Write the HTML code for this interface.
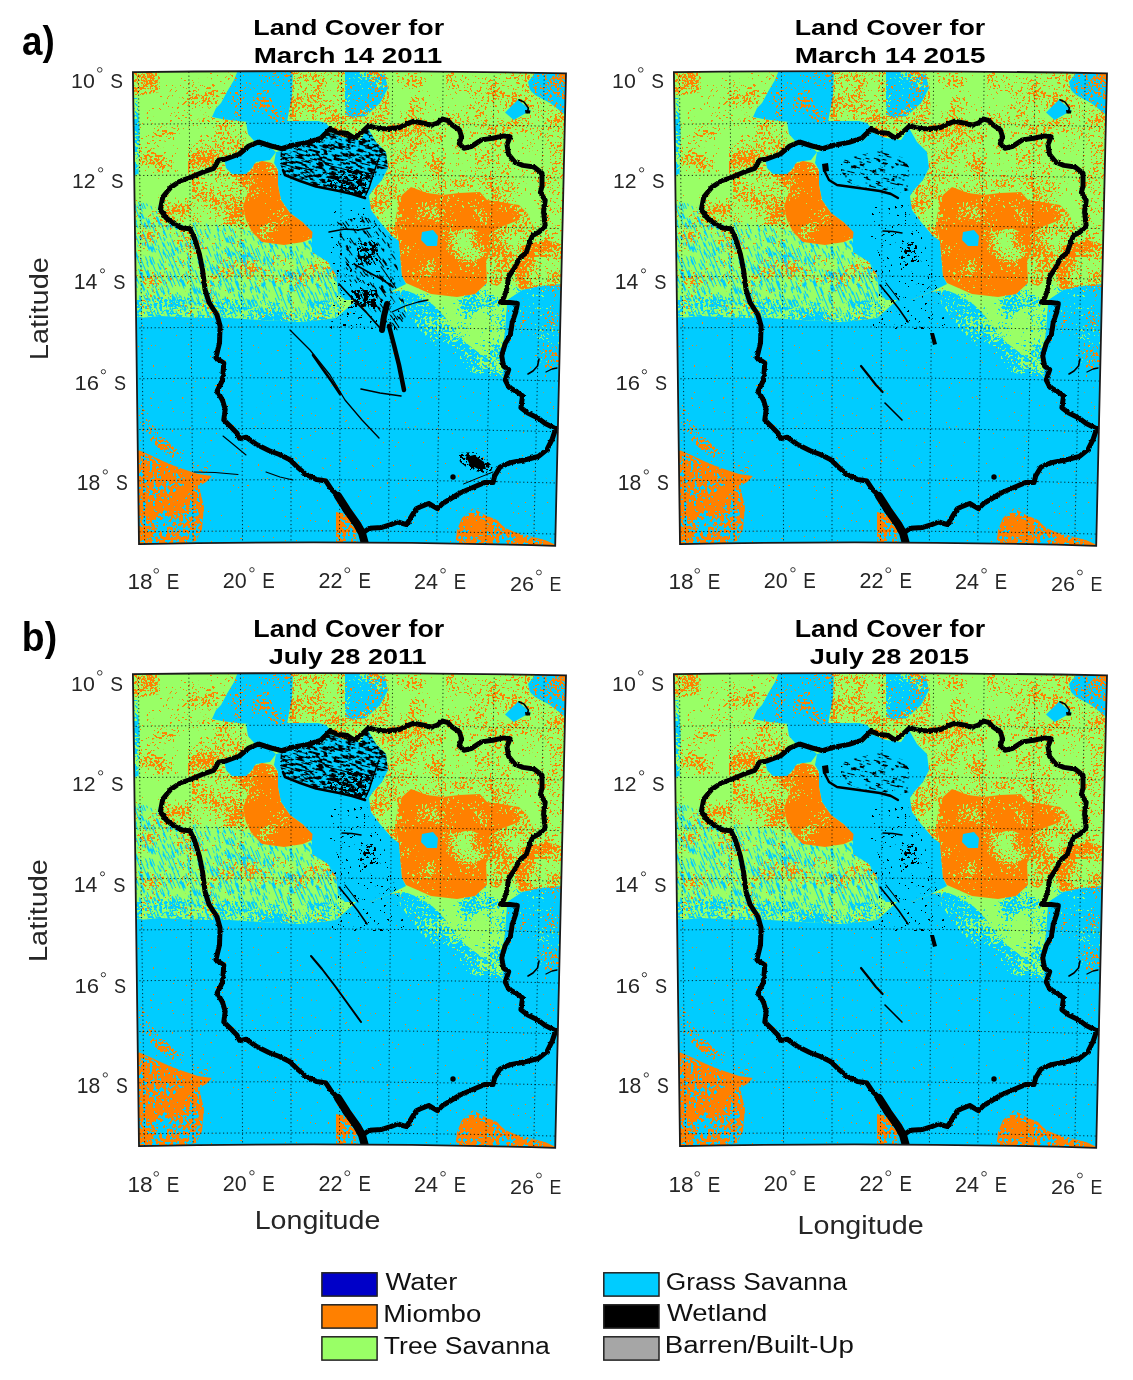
<!DOCTYPE html><html><head><meta charset="utf-8"><title>Land Cover</title><style>html,body{margin:0;padding:0;background:#fff;overflow:hidden}svg{display:block;will-change:transform}text{font-family:"Liberation Sans",sans-serif}</style></head><body>
<svg width="1133" height="1380" viewBox="0 0 1133 1380">
<rect width="1133" height="1380" fill="#fff"/>
<defs>
<clipPath id="fc"><path d="M132.9 72.2 Q350 69.6 566.0 73.3 L555.2 545.8 Q347 540.0 139.0 544.2 Z"/></clipPath>
<clipPath id="cz0"><path d="M128.0 200.0 L160.0 206.0 L176.0 226.0 L192.0 222.0 L210.0 224.0 L232.0 226.0 L252.0 232.0 L262.0 242.0 L284.0 245.0 L303.0 242.0 L312.0 240.0 L312.0 252.0 L328.0 262.0 L336.0 275.0 L338.0 292.0 L345.0 300.0 L336.0 318.0 L320.0 320.0 L300.0 322.0 L260.0 320.0 L230.0 318.0 L200.0 318.0 L160.0 316.0 L140.0 318.0 L128.0 318.0 Z"/></clipPath>
<clipPath id="cz1"><path d="M281.0 149.0 L293.0 145.5 L308.0 142.5 L320.5 138.5 L329.7 129.5 L338.8 132.6 L352.6 138.4 L359.5 134.0 L368.0 128.0 L376.0 142.0 L386.0 152.0 L388.0 168.0 L378.0 170.0 L372.0 180.0 L368.7 190.0 L365.0 198.0 L339.0 191.0 L316.0 186.5 L285.0 175.0 L280.0 164.0 Z"/></clipPath>
<clipPath id="cz2"><path d="M336.0 222.0 L368.0 215.0 L392.0 240.0 L402.0 290.0 L408.0 330.0 L392.0 335.0 L362.0 300.0 L340.0 268.0 Z"/></clipPath>
<clipPath id="cz3"><path d="M300.0 160.0 L340.0 150.0 L368.0 160.0 L368.0 190.0 L355.0 194.0 L330.0 190.0 L300.0 180.0 Z"/></clipPath>
<filter id="rough" filterUnits="userSpaceOnUse" x="120" y="60" width="460" height="500"><feTurbulence type="fractalNoise" baseFrequency="0.35" numOctaves="2" seed="7" result="n"/><feDisplacementMap in="SourceGraphic" in2="n" scale="2.6" xChannelSelector="R" yChannelSelector="G"/></filter>
<filter id="f0" filterUnits="userSpaceOnUse" x="120" y="60" width="460" height="500" color-interpolation-filters="sRGB"><feTurbulence type="fractalNoise" baseFrequency="0.4" numOctaves="2" seed="42"/><feColorMatrix type="matrix" values="0 0 0 0 1.000  0 0 0 0 0.502  0 0 0 0 0.000  40 0 0 0 -30.962"/><feComposite in2="SourceAlpha" operator="in"/></filter>
<filter id="f1" filterUnits="userSpaceOnUse" x="120" y="60" width="460" height="500" color-interpolation-filters="sRGB"><feTurbulence type="fractalNoise" baseFrequency="0.4" numOctaves="2" seed="43" result="a0"/><feColorMatrix in="a0" type="matrix" values="1 0 0 0 0  1 0 0 0 0  1 0 0 0 0  0 0 0 0 1" result="a"/><feTurbulence type="fractalNoise" baseFrequency="0.035" numOctaves="2" seed="93" result="c0"/><feColorMatrix in="c0" type="matrix" values="1 0 0 0 0  1 0 0 0 0  1 0 0 0 0  0 0 0 0 1" result="c"/><feComposite in="a" in2="c" operator="arithmetic" k1="0" k2="1" k3="0.8" k4="-0.4"/><feColorMatrix type="matrix" values="0 0 0 0 0.600  0 0 0 0 1.000  0 0 0 0 0.400  40 0 0 0 -27.425"/><feComposite in2="SourceAlpha" operator="in"/></filter>
<filter id="f2" filterUnits="userSpaceOnUse" x="120" y="60" width="460" height="500" color-interpolation-filters="sRGB"><feTurbulence type="fractalNoise" baseFrequency="0.4" numOctaves="2" seed="44" result="a0"/><feColorMatrix in="a0" type="matrix" values="1 0 0 0 0  1 0 0 0 0  1 0 0 0 0  0 0 0 0 1" result="a"/><feTurbulence type="fractalNoise" baseFrequency="0.035" numOctaves="2" seed="94" result="c0"/><feColorMatrix in="c0" type="matrix" values="1 0 0 0 0  1 0 0 0 0  1 0 0 0 0  0 0 0 0 1" result="c"/><feComposite in="a" in2="c" operator="arithmetic" k1="0" k2="1" k3="0.8" k4="-0.4"/><feColorMatrix type="matrix" values="0 0 0 0 1.000  0 0 0 0 0.502  0 0 0 0 0.000  40 0 0 0 -28.167"/><feComposite in2="SourceAlpha" operator="in"/></filter>
<filter id="f3" filterUnits="userSpaceOnUse" x="120" y="60" width="460" height="500" color-interpolation-filters="sRGB"><feTurbulence type="fractalNoise" baseFrequency="0.4" numOctaves="2" seed="2" result="a0"/><feColorMatrix in="a0" type="matrix" values="1 0 0 0 0  1 0 0 0 0  1 0 0 0 0  0 0 0 0 1" result="a"/><feTurbulence type="fractalNoise" baseFrequency="0.035" numOctaves="2" seed="52" result="c0"/><feColorMatrix in="c0" type="matrix" values="1 0 0 0 0  1 0 0 0 0  1 0 0 0 0  0 0 0 0 1" result="c"/><feComposite in="a" in2="c" operator="arithmetic" k1="0" k2="1" k3="0.8" k4="-0.4"/><feColorMatrix type="matrix" values="0 0 0 0 1.000  0 0 0 0 0.502  0 0 0 0 0.000  40 0 0 0 -28.167"/><feComposite in2="SourceAlpha" operator="in"/></filter>
<filter id="f4" filterUnits="userSpaceOnUse" x="120" y="60" width="460" height="500" color-interpolation-filters="sRGB"><feTurbulence type="fractalNoise" baseFrequency="0.4" numOctaves="2" seed="21"/><feColorMatrix type="matrix" values="0 0 0 0 1.000  0 0 0 0 0.502  0 0 0 0 0.000  40 0 0 0 -20.535"/><feComposite in2="SourceAlpha" operator="in"/></filter>
<filter id="f5" filterUnits="userSpaceOnUse" x="120" y="60" width="460" height="500" color-interpolation-filters="sRGB"><feTurbulence type="fractalNoise" baseFrequency="0.4" numOctaves="2" seed="22" result="a0"/><feColorMatrix in="a0" type="matrix" values="1 0 0 0 0  1 0 0 0 0  1 0 0 0 0  0 0 0 0 1" result="a"/><feTurbulence type="fractalNoise" baseFrequency="0.035" numOctaves="2" seed="72" result="c0"/><feColorMatrix in="c0" type="matrix" values="1 0 0 0 0  1 0 0 0 0  1 0 0 0 0  0 0 0 0 1" result="c"/><feComposite in="a" in2="c" operator="arithmetic" k1="0" k2="1" k3="0.8" k4="-0.4"/><feColorMatrix type="matrix" values="0 0 0 0 1.000  0 0 0 0 0.502  0 0 0 0 0.000  40 0 0 0 -23.888"/><feComposite in2="SourceAlpha" operator="in"/></filter>
<filter id="f6" filterUnits="userSpaceOnUse" x="120" y="60" width="460" height="500" color-interpolation-filters="sRGB"><feTurbulence type="fractalNoise" baseFrequency="0.4" numOctaves="2" seed="3" result="a0"/><feColorMatrix in="a0" type="matrix" values="1 0 0 0 0  1 0 0 0 0  1 0 0 0 0  0 0 0 0 1" result="a"/><feTurbulence type="fractalNoise" baseFrequency="0.035" numOctaves="2" seed="53" result="c0"/><feColorMatrix in="c0" type="matrix" values="1 0 0 0 0  1 0 0 0 0  1 0 0 0 0  0 0 0 0 1" result="c"/><feComposite in="a" in2="c" operator="arithmetic" k1="0" k2="1" k3="0.8" k4="-0.4"/><feColorMatrix type="matrix" values="0 0 0 0 1.000  0 0 0 0 0.502  0 0 0 0 0.000  40 0 0 0 -25.671"/><feComposite in2="SourceAlpha" operator="in"/></filter>
<filter id="f7" filterUnits="userSpaceOnUse" x="120" y="60" width="460" height="500" color-interpolation-filters="sRGB"><feTurbulence type="fractalNoise" baseFrequency="0.4" numOctaves="2" seed="54" result="a0"/><feColorMatrix in="a0" type="matrix" values="1 0 0 0 0  1 0 0 0 0  1 0 0 0 0  0 0 0 0 1" result="a"/><feTurbulence type="fractalNoise" baseFrequency="0.035" numOctaves="2" seed="104" result="c0"/><feColorMatrix in="c0" type="matrix" values="1 0 0 0 0  1 0 0 0 0  1 0 0 0 0  0 0 0 0 1" result="c"/><feComposite in="a" in2="c" operator="arithmetic" k1="0" k2="1" k3="0.8" k4="-0.4"/><feColorMatrix type="matrix" values="0 0 0 0 1.000  0 0 0 0 0.502  0 0 0 0 0.000  40 0 0 0 -28.602"/><feComposite in2="SourceAlpha" operator="in"/></filter>
<filter id="f8" filterUnits="userSpaceOnUse" x="120" y="60" width="460" height="500" color-interpolation-filters="sRGB"><feTurbulence type="fractalNoise" baseFrequency="0.4" numOctaves="2" seed="45" result="a0"/><feColorMatrix in="a0" type="matrix" values="1 0 0 0 0  1 0 0 0 0  1 0 0 0 0  0 0 0 0 1" result="a"/><feTurbulence type="fractalNoise" baseFrequency="0.035" numOctaves="2" seed="95" result="c0"/><feColorMatrix in="c0" type="matrix" values="1 0 0 0 0  1 0 0 0 0  1 0 0 0 0  0 0 0 0 1" result="c"/><feComposite in="a" in2="c" operator="arithmetic" k1="0" k2="1" k3="0.8" k4="-0.4"/><feColorMatrix type="matrix" values="0 0 0 0 1.000  0 0 0 0 0.502  0 0 0 0 0.000  40 0 0 0 -25.183"/><feComposite in2="SourceAlpha" operator="in"/></filter>
<filter id="f9" filterUnits="userSpaceOnUse" x="120" y="60" width="460" height="500" color-interpolation-filters="sRGB"><feTurbulence type="fractalNoise" baseFrequency="0.4" numOctaves="2" seed="4" result="a0"/><feColorMatrix in="a0" type="matrix" values="1 0 0 0 0  1 0 0 0 0  1 0 0 0 0  0 0 0 0 1" result="a"/><feTurbulence type="fractalNoise" baseFrequency="0.035" numOctaves="2" seed="54" result="c0"/><feColorMatrix in="c0" type="matrix" values="1 0 0 0 0  1 0 0 0 0  1 0 0 0 0  0 0 0 0 1" result="c"/><feComposite in="a" in2="c" operator="arithmetic" k1="0" k2="1" k3="0.8" k4="-0.4"/><feColorMatrix type="matrix" values="0 0 0 0 1.000  0 0 0 0 0.502  0 0 0 0 0.000  40 0 0 0 -29.049"/><feComposite in2="SourceAlpha" operator="in"/></filter>
<filter id="f10" filterUnits="userSpaceOnUse" x="120" y="60" width="460" height="500" color-interpolation-filters="sRGB"><feTurbulence type="fractalNoise" baseFrequency="0.4" numOctaves="2" seed="41" result="a0"/><feColorMatrix in="a0" type="matrix" values="1 0 0 0 0  1 0 0 0 0  1 0 0 0 0  0 0 0 0 1" result="a"/><feTurbulence type="fractalNoise" baseFrequency="0.035" numOctaves="2" seed="91" result="c0"/><feColorMatrix in="c0" type="matrix" values="1 0 0 0 0  1 0 0 0 0  1 0 0 0 0  0 0 0 0 1" result="c"/><feComposite in="a" in2="c" operator="arithmetic" k1="0" k2="1" k3="0.8" k4="-0.4"/><feColorMatrix type="matrix" values="0 0 0 0 1.000  0 0 0 0 0.502  0 0 0 0 0.000  40 0 0 0 -26.188"/><feComposite in2="SourceAlpha" operator="in"/></filter>
<filter id="f11" filterUnits="userSpaceOnUse" x="120" y="60" width="460" height="500" color-interpolation-filters="sRGB"><feTurbulence type="fractalNoise" baseFrequency="0.4" numOctaves="2" seed="5" result="a0"/><feColorMatrix in="a0" type="matrix" values="1 0 0 0 0  1 0 0 0 0  1 0 0 0 0  0 0 0 0 1" result="a"/><feTurbulence type="fractalNoise" baseFrequency="0.035" numOctaves="2" seed="55" result="c0"/><feColorMatrix in="c0" type="matrix" values="1 0 0 0 0  1 0 0 0 0  1 0 0 0 0  0 0 0 0 1" result="c"/><feComposite in="a" in2="c" operator="arithmetic" k1="0" k2="1" k3="0.8" k4="-0.4"/><feColorMatrix type="matrix" values="0 0 0 0 1.000  0 0 0 0 0.502  0 0 0 0 0.000  40 0 0 0 -22.768"/><feComposite in2="SourceAlpha" operator="in"/></filter>
<filter id="f12" filterUnits="userSpaceOnUse" x="120" y="60" width="460" height="500" color-interpolation-filters="sRGB"><feTurbulence type="fractalNoise" baseFrequency="0.4" numOctaves="2" seed="9" result="a0"/><feColorMatrix in="a0" type="matrix" values="1 0 0 0 0  1 0 0 0 0  1 0 0 0 0  0 0 0 0 1" result="a"/><feTurbulence type="fractalNoise" baseFrequency="0.035" numOctaves="2" seed="59" result="c0"/><feColorMatrix in="c0" type="matrix" values="1 0 0 0 0  1 0 0 0 0  1 0 0 0 0  0 0 0 0 1" result="c"/><feComposite in="a" in2="c" operator="arithmetic" k1="0" k2="1" k3="0.8" k4="-0.4"/><feColorMatrix type="matrix" values="0 0 0 0 1.000  0 0 0 0 0.502  0 0 0 0 0.000  40 0 0 0 -28.167"/><feComposite in2="SourceAlpha" operator="in"/></filter>
<filter id="f13" filterUnits="userSpaceOnUse" x="120" y="60" width="460" height="500" color-interpolation-filters="sRGB"><feTurbulence type="fractalNoise" baseFrequency="0.4" numOctaves="2" seed="10" result="a0"/><feColorMatrix in="a0" type="matrix" values="1 0 0 0 0  1 0 0 0 0  1 0 0 0 0  0 0 0 0 1" result="a"/><feTurbulence type="fractalNoise" baseFrequency="0.035" numOctaves="2" seed="60" result="c0"/><feColorMatrix in="c0" type="matrix" values="1 0 0 0 0  1 0 0 0 0  1 0 0 0 0  0 0 0 0 1" result="c"/><feComposite in="a" in2="c" operator="arithmetic" k1="0" k2="1" k3="0.8" k4="-0.4"/><feColorMatrix type="matrix" values="0 0 0 0 1.000  0 0 0 0 0.502  0 0 0 0 0.000  40 0 0 0 -21.897"/><feComposite in2="SourceAlpha" operator="in"/></filter>
<filter id="f14" filterUnits="userSpaceOnUse" x="120" y="60" width="460" height="500" color-interpolation-filters="sRGB"><feTurbulence type="fractalNoise" baseFrequency="0.4" numOctaves="2" seed="23" result="a0"/><feColorMatrix in="a0" type="matrix" values="1 0 0 0 0  1 0 0 0 0  1 0 0 0 0  0 0 0 0 1" result="a"/><feTurbulence type="fractalNoise" baseFrequency="0.035" numOctaves="2" seed="73" result="c0"/><feColorMatrix in="c0" type="matrix" values="1 0 0 0 0  1 0 0 0 0  1 0 0 0 0  0 0 0 0 1" result="c"/><feComposite in="a" in2="c" operator="arithmetic" k1="0" k2="1" k3="0.8" k4="-0.4"/><feColorMatrix type="matrix" values="0 0 0 0 1.000  0 0 0 0 0.502  0 0 0 0 0.000  40 0 0 0 -21.078"/><feComposite in2="SourceAlpha" operator="in"/></filter>
<filter id="f15" filterUnits="userSpaceOnUse" x="120" y="60" width="460" height="500" color-interpolation-filters="sRGB"><feTurbulence type="fractalNoise" baseFrequency="0.4" numOctaves="2" seed="24" result="a0"/><feColorMatrix in="a0" type="matrix" values="1 0 0 0 0  1 0 0 0 0  1 0 0 0 0  0 0 0 0 1" result="a"/><feTurbulence type="fractalNoise" baseFrequency="0.035" numOctaves="2" seed="74" result="c0"/><feColorMatrix in="c0" type="matrix" values="1 0 0 0 0  1 0 0 0 0  1 0 0 0 0  0 0 0 0 1" result="c"/><feComposite in="a" in2="c" operator="arithmetic" k1="0" k2="1" k3="0.8" k4="-0.4"/><feColorMatrix type="matrix" values="0 0 0 0 1.000  0 0 0 0 0.502  0 0 0 0 0.000  40 0 0 0 -21.078"/><feComposite in2="SourceAlpha" operator="in"/></filter>
<filter id="f16" filterUnits="userSpaceOnUse" x="-200" y="-200" width="1100" height="1100" color-interpolation-filters="sRGB"><feTurbulence type="fractalNoise" baseFrequency="0.7 0.09" numOctaves="2" seed="6"/><feColorMatrix type="matrix" values="0 0 0 0 0.000  0 0 0 0 0.800  0 0 0 0 1.000  40 0 0 0 -23.009"/><feComposite in2="SourceAlpha" operator="in"/></filter>
<filter id="f17" filterUnits="userSpaceOnUse" x="120" y="60" width="460" height="500" color-interpolation-filters="sRGB"><feTurbulence type="fractalNoise" baseFrequency="0.4" numOctaves="2" seed="16" result="a0"/><feColorMatrix in="a0" type="matrix" values="1 0 0 0 0  1 0 0 0 0  1 0 0 0 0  0 0 0 0 1" result="a"/><feTurbulence type="fractalNoise" baseFrequency="0.035" numOctaves="2" seed="66" result="c0"/><feColorMatrix in="c0" type="matrix" values="1 0 0 0 0  1 0 0 0 0  1 0 0 0 0  0 0 0 0 1" result="c"/><feComposite in="a" in2="c" operator="arithmetic" k1="0" k2="1" k3="0.8" k4="-0.4"/><feColorMatrix type="matrix" values="0 0 0 0 0.000  0 0 0 0 0.800  0 0 0 0 1.000  40 0 0 0 -22.768"/><feComposite in2="SourceAlpha" operator="in"/></filter>
<filter id="f18" filterUnits="userSpaceOnUse" x="120" y="60" width="460" height="500" color-interpolation-filters="sRGB"><feTurbulence type="fractalNoise" baseFrequency="0.4" numOctaves="2" seed="7" result="a0"/><feColorMatrix in="a0" type="matrix" values="1 0 0 0 0  1 0 0 0 0  1 0 0 0 0  0 0 0 0 1" result="a"/><feTurbulence type="fractalNoise" baseFrequency="0.035" numOctaves="2" seed="57" result="c0"/><feColorMatrix in="c0" type="matrix" values="1 0 0 0 0  1 0 0 0 0  1 0 0 0 0  0 0 0 0 1" result="c"/><feComposite in="a" in2="c" operator="arithmetic" k1="0" k2="1" k3="0.8" k4="-0.4"/><feColorMatrix type="matrix" values="0 0 0 0 0.000  0 0 0 0 0.800  0 0 0 0 1.000  40 0 0 0 -25.915"/><feComposite in2="SourceAlpha" operator="in"/></filter>
<filter id="f19" filterUnits="userSpaceOnUse" x="120" y="60" width="460" height="500" color-interpolation-filters="sRGB"><feTurbulence type="fractalNoise" baseFrequency="0.4" numOctaves="2" seed="25" result="a0"/><feColorMatrix in="a0" type="matrix" values="1 0 0 0 0  1 0 0 0 0  1 0 0 0 0  0 0 0 0 1" result="a"/><feTurbulence type="fractalNoise" baseFrequency="0.035" numOctaves="2" seed="75" result="c0"/><feColorMatrix in="c0" type="matrix" values="1 0 0 0 0  1 0 0 0 0  1 0 0 0 0  0 0 0 0 1" result="c"/><feComposite in="a" in2="c" operator="arithmetic" k1="0" k2="1" k3="0.8" k4="-0.4"/><feColorMatrix type="matrix" values="0 0 0 0 1.000  0 0 0 0 0.502  0 0 0 0 0.000  40 0 0 0 -28.167"/><feComposite in2="SourceAlpha" operator="in"/></filter>
<filter id="f20" filterUnits="userSpaceOnUse" x="120" y="60" width="460" height="500" color-interpolation-filters="sRGB"><feTurbulence type="fractalNoise" baseFrequency="0.4" numOctaves="2" seed="46" result="a0"/><feColorMatrix in="a0" type="matrix" values="1 0 0 0 0  1 0 0 0 0  1 0 0 0 0  0 0 0 0 1" result="a"/><feTurbulence type="fractalNoise" baseFrequency="0.035" numOctaves="2" seed="96" result="c0"/><feColorMatrix in="c0" type="matrix" values="1 0 0 0 0  1 0 0 0 0  1 0 0 0 0  0 0 0 0 1" result="c"/><feComposite in="a" in2="c" operator="arithmetic" k1="0" k2="1" k3="0.8" k4="-0.4"/><feColorMatrix type="matrix" values="0 0 0 0 0.600  0 0 0 0 1.000  0 0 0 0 0.400  40 0 0 0 -21.897"/><feComposite in2="SourceAlpha" operator="in"/></filter>
<filter id="f21" filterUnits="userSpaceOnUse" x="120" y="60" width="460" height="500" color-interpolation-filters="sRGB"><feTurbulence type="fractalNoise" baseFrequency="0.4" numOctaves="2" seed="50" result="a0"/><feColorMatrix in="a0" type="matrix" values="1 0 0 0 0  1 0 0 0 0  1 0 0 0 0  0 0 0 0 1" result="a"/><feTurbulence type="fractalNoise" baseFrequency="0.035" numOctaves="2" seed="100" result="c0"/><feColorMatrix in="c0" type="matrix" values="1 0 0 0 0  1 0 0 0 0  1 0 0 0 0  0 0 0 0 1" result="c"/><feComposite in="a" in2="c" operator="arithmetic" k1="0" k2="1" k3="0.8" k4="-0.4"/><feColorMatrix type="matrix" values="0 0 0 0 1.000  0 0 0 0 0.502  0 0 0 0 0.000  40 0 0 0 -25.183"/><feComposite in2="SourceAlpha" operator="in"/></filter>
<filter id="f22" filterUnits="userSpaceOnUse" x="120" y="60" width="460" height="500" color-interpolation-filters="sRGB"><feTurbulence type="fractalNoise" baseFrequency="0.4" numOctaves="2" seed="51" result="a0"/><feColorMatrix in="a0" type="matrix" values="1 0 0 0 0  1 0 0 0 0  1 0 0 0 0  0 0 0 0 1" result="a"/><feTurbulence type="fractalNoise" baseFrequency="0.035" numOctaves="2" seed="101" result="c0"/><feColorMatrix in="c0" type="matrix" values="1 0 0 0 0  1 0 0 0 0  1 0 0 0 0  0 0 0 0 1" result="c"/><feComposite in="a" in2="c" operator="arithmetic" k1="0" k2="1" k3="0.8" k4="-0.4"/><feColorMatrix type="matrix" values="0 0 0 0 0.600  0 0 0 0 1.000  0 0 0 0 0.400  40 0 0 0 -25.915"/><feComposite in2="SourceAlpha" operator="in"/></filter>
<filter id="f23" filterUnits="userSpaceOnUse" x="120" y="60" width="460" height="500" color-interpolation-filters="sRGB"><feTurbulence type="fractalNoise" baseFrequency="0.4" numOctaves="2" seed="52" result="a0"/><feColorMatrix in="a0" type="matrix" values="1 0 0 0 0  1 0 0 0 0  1 0 0 0 0  0 0 0 0 1" result="a"/><feTurbulence type="fractalNoise" baseFrequency="0.035" numOctaves="2" seed="102" result="c0"/><feColorMatrix in="c0" type="matrix" values="1 0 0 0 0  1 0 0 0 0  1 0 0 0 0  0 0 0 0 1" result="c"/><feComposite in="a" in2="c" operator="arithmetic" k1="0" k2="1" k3="0.8" k4="-0.4"/><feColorMatrix type="matrix" values="0 0 0 0 1.000  0 0 0 0 0.502  0 0 0 0 0.000  40 0 0 0 -25.915"/><feComposite in2="SourceAlpha" operator="in"/></filter>
<filter id="f24" filterUnits="userSpaceOnUse" x="120" y="60" width="460" height="500" color-interpolation-filters="sRGB"><feTurbulence type="fractalNoise" baseFrequency="0.4" numOctaves="2" seed="53" result="a0"/><feColorMatrix in="a0" type="matrix" values="1 0 0 0 0  1 0 0 0 0  1 0 0 0 0  0 0 0 0 1" result="a"/><feTurbulence type="fractalNoise" baseFrequency="0.035" numOctaves="2" seed="103" result="c0"/><feColorMatrix in="c0" type="matrix" values="1 0 0 0 0  1 0 0 0 0  1 0 0 0 0  0 0 0 0 1" result="c"/><feComposite in="a" in2="c" operator="arithmetic" k1="0" k2="1" k3="0.8" k4="-0.4"/><feColorMatrix type="matrix" values="0 0 0 0 1.000  0 0 0 0 0.502  0 0 0 0 0.000  40 0 0 0 -20.293"/><feComposite in2="SourceAlpha" operator="in"/></filter>
<filter id="f25" filterUnits="userSpaceOnUse" x="120" y="60" width="460" height="500" color-interpolation-filters="sRGB"><feTurbulence type="fractalNoise" baseFrequency="0.4" numOctaves="2" seed="47" result="a0"/><feColorMatrix in="a0" type="matrix" values="1 0 0 0 0  1 0 0 0 0  1 0 0 0 0  0 0 0 0 1" result="a"/><feTurbulence type="fractalNoise" baseFrequency="0.035" numOctaves="2" seed="97" result="c0"/><feColorMatrix in="c0" type="matrix" values="1 0 0 0 0  1 0 0 0 0  1 0 0 0 0  0 0 0 0 1" result="c"/><feComposite in="a" in2="c" operator="arithmetic" k1="0" k2="1" k3="0.8" k4="-0.4"/><feColorMatrix type="matrix" values="0 0 0 0 1.000  0 0 0 0 0.502  0 0 0 0 0.000  40 0 0 0 -25.183"/><feComposite in2="SourceAlpha" operator="in"/></filter>
<filter id="f26" filterUnits="userSpaceOnUse" x="120" y="60" width="460" height="500" color-interpolation-filters="sRGB"><feTurbulence type="fractalNoise" baseFrequency="0.4" numOctaves="2" seed="26" result="a0"/><feColorMatrix in="a0" type="matrix" values="1 0 0 0 0  1 0 0 0 0  1 0 0 0 0  0 0 0 0 1" result="a"/><feTurbulence type="fractalNoise" baseFrequency="0.035" numOctaves="2" seed="76" result="c0"/><feColorMatrix in="c0" type="matrix" values="1 0 0 0 0  1 0 0 0 0  1 0 0 0 0  0 0 0 0 1" result="c"/><feComposite in="a" in2="c" operator="arithmetic" k1="0" k2="1" k3="0.8" k4="-0.4"/><feColorMatrix type="matrix" values="0 0 0 0 0.600  0 0 0 0 1.000  0 0 0 0 0.400  40 0 0 0 -22.416"/><feComposite in2="SourceAlpha" operator="in"/></filter>
<filter id="f27" filterUnits="userSpaceOnUse" x="120" y="60" width="460" height="500" color-interpolation-filters="sRGB"><feTurbulence type="fractalNoise" baseFrequency="0.4" numOctaves="2" seed="11" result="a0"/><feColorMatrix in="a0" type="matrix" values="1 0 0 0 0  1 0 0 0 0  1 0 0 0 0  0 0 0 0 1" result="a"/><feTurbulence type="fractalNoise" baseFrequency="0.035" numOctaves="2" seed="61" result="c0"/><feColorMatrix in="c0" type="matrix" values="1 0 0 0 0  1 0 0 0 0  1 0 0 0 0  0 0 0 0 1" result="c"/><feComposite in="a" in2="c" operator="arithmetic" k1="0" k2="1" k3="0.8" k4="-0.4"/><feColorMatrix type="matrix" values="0 0 0 0 0.600  0 0 0 0 1.000  0 0 0 0 0.400  40 0 0 0 -27.425"/><feComposite in2="SourceAlpha" operator="in"/></filter>
<filter id="f28" filterUnits="userSpaceOnUse" x="120" y="60" width="460" height="500" color-interpolation-filters="sRGB"><feTurbulence type="fractalNoise" baseFrequency="0.4" numOctaves="2" seed="12" result="a0"/><feColorMatrix in="a0" type="matrix" values="1 0 0 0 0  1 0 0 0 0  1 0 0 0 0  0 0 0 0 1" result="a"/><feTurbulence type="fractalNoise" baseFrequency="0.035" numOctaves="2" seed="62" result="c0"/><feColorMatrix in="c0" type="matrix" values="1 0 0 0 0  1 0 0 0 0  1 0 0 0 0  0 0 0 0 1" result="c"/><feComposite in="a" in2="c" operator="arithmetic" k1="0" k2="1" k3="0.8" k4="-0.4"/><feColorMatrix type="matrix" values="0 0 0 0 0.600  0 0 0 0 1.000  0 0 0 0 0.400  40 0 0 0 -28.602"/><feComposite in2="SourceAlpha" operator="in"/></filter>
<filter id="f29" filterUnits="userSpaceOnUse" x="120" y="60" width="460" height="500" color-interpolation-filters="sRGB"><feTurbulence type="fractalNoise" baseFrequency="0.3" numOctaves="2" seed="13" result="a0"/><feColorMatrix in="a0" type="matrix" values="1 0 0 0 0  1 0 0 0 0  1 0 0 0 0  0 0 0 0 1" result="a"/><feTurbulence type="fractalNoise" baseFrequency="0.035" numOctaves="2" seed="63" result="c0"/><feColorMatrix in="c0" type="matrix" values="1 0 0 0 0  1 0 0 0 0  1 0 0 0 0  0 0 0 0 1" result="c"/><feComposite in="a" in2="c" operator="arithmetic" k1="0" k2="1" k3="0.8" k4="-0.4"/><feColorMatrix type="matrix" values="0 0 0 0 0.000  0 0 0 0 0.800  0 0 0 0 1.000  40 0 0 0 -22.767"/><feComposite in2="SourceAlpha" operator="in"/></filter>
<filter id="f30" filterUnits="userSpaceOnUse" x="120" y="60" width="460" height="500" color-interpolation-filters="sRGB"><feTurbulence type="fractalNoise" baseFrequency="0.3" numOctaves="2" seed="14" result="a0"/><feColorMatrix in="a0" type="matrix" values="1 0 0 0 0  1 0 0 0 0  1 0 0 0 0  0 0 0 0 1" result="a"/><feTurbulence type="fractalNoise" baseFrequency="0.035" numOctaves="2" seed="64" result="c0"/><feColorMatrix in="c0" type="matrix" values="1 0 0 0 0  1 0 0 0 0  1 0 0 0 0  0 0 0 0 1" result="c"/><feComposite in="a" in2="c" operator="arithmetic" k1="0" k2="1" k3="0.8" k4="-0.4"/><feColorMatrix type="matrix" values="0 0 0 0 0.000  0 0 0 0 0.800  0 0 0 0 1.000  40 0 0 0 -21.903"/><feComposite in2="SourceAlpha" operator="in"/></filter>
<filter id="f31" filterUnits="userSpaceOnUse" x="120" y="60" width="460" height="500" color-interpolation-filters="sRGB"><feTurbulence type="fractalNoise" baseFrequency="0.3" numOctaves="2" seed="15" result="a0"/><feColorMatrix in="a0" type="matrix" values="1 0 0 0 0  1 0 0 0 0  1 0 0 0 0  0 0 0 0 1" result="a"/><feTurbulence type="fractalNoise" baseFrequency="0.035" numOctaves="2" seed="65" result="c0"/><feColorMatrix in="c0" type="matrix" values="1 0 0 0 0  1 0 0 0 0  1 0 0 0 0  0 0 0 0 1" result="c"/><feComposite in="a" in2="c" operator="arithmetic" k1="0" k2="1" k3="0.8" k4="-0.4"/><feColorMatrix type="matrix" values="0 0 0 0 0.000  0 0 0 0 0.800  0 0 0 0 1.000  40 0 0 0 -21.903"/><feComposite in2="SourceAlpha" operator="in"/></filter>
<filter id="f32" filterUnits="userSpaceOnUse" x="120" y="60" width="460" height="500" color-interpolation-filters="sRGB"><feTurbulence type="fractalNoise" baseFrequency="0.4" numOctaves="2" seed="8" result="a0"/><feColorMatrix in="a0" type="matrix" values="1 0 0 0 0  1 0 0 0 0  1 0 0 0 0  0 0 0 0 1" result="a"/><feTurbulence type="fractalNoise" baseFrequency="0.035" numOctaves="2" seed="58" result="c0"/><feColorMatrix in="c0" type="matrix" values="1 0 0 0 0  1 0 0 0 0  1 0 0 0 0  0 0 0 0 1" result="c"/><feComposite in="a" in2="c" operator="arithmetic" k1="0" k2="1" k3="0.8" k4="-0.4"/><feColorMatrix type="matrix" values="0 0 0 0 0.600  0 0 0 0 1.000  0 0 0 0 0.400  40 0 0 0 -22.768"/><feComposite in2="SourceAlpha" operator="in"/></filter>
<filter id="f33" filterUnits="userSpaceOnUse" x="-200" y="-200" width="1100" height="1100" color-interpolation-filters="sRGB"><feTurbulence type="fractalNoise" baseFrequency="0.14 0.45" numOctaves="2" seed="31"/><feColorMatrix type="matrix" values="0 0 0 0 0.000  0 0 0 0 0.000  0 0 0 0 0.000  40 0 0 0 -20.396"/><feComposite in2="SourceAlpha" operator="in"/></filter>
<filter id="f34" filterUnits="userSpaceOnUse" x="120" y="60" width="460" height="500" color-interpolation-filters="sRGB"><feTurbulence type="fractalNoise" baseFrequency="0.3" numOctaves="2" seed="39"/><feColorMatrix type="matrix" values="0 0 0 0 0.000  0 0 0 0 0.000  0 0 0 0 0.000  40 0 0 0 -21.270"/><feComposite in2="SourceAlpha" operator="in"/></filter>
<filter id="f35" filterUnits="userSpaceOnUse" x="120" y="60" width="460" height="500" color-interpolation-filters="sRGB"><feTurbulence type="fractalNoise" baseFrequency="0.25" numOctaves="2" seed="32"/><feColorMatrix type="matrix" values="0 0 0 0 0.000  0 0 0 0 0.000  0 0 0 0 0.000  40 0 0 0 -19.129"/><feComposite in2="SourceAlpha" operator="in"/></filter>
<filter id="f36" filterUnits="userSpaceOnUse" x="120" y="60" width="460" height="500" color-interpolation-filters="sRGB"><feTurbulence type="fractalNoise" baseFrequency="0.25" numOctaves="2" seed="33"/><feColorMatrix type="matrix" values="0 0 0 0 0.000  0 0 0 0 0.000  0 0 0 0 0.000  40 0 0 0 -19.851"/><feComposite in2="SourceAlpha" operator="in"/></filter>
<filter id="f37" filterUnits="userSpaceOnUse" x="120" y="60" width="460" height="500" color-interpolation-filters="sRGB"><feTurbulence type="fractalNoise" baseFrequency="0.3" numOctaves="2" seed="34"/><feColorMatrix type="matrix" values="0 0 0 0 0.000  0 0 0 0 0.000  0 0 0 0 0.000  40 0 0 0 -28.538"/><feComposite in2="SourceAlpha" operator="in"/></filter>
<filter id="f38" filterUnits="userSpaceOnUse" x="-200" y="-200" width="1100" height="1100" color-interpolation-filters="sRGB"><feTurbulence type="fractalNoise" baseFrequency="0.7 0.09" numOctaves="2" seed="49"/><feColorMatrix type="matrix" values="0 0 0 0 0.000  0 0 0 0 0.000  0 0 0 0 0.000  40 0 0 0 -24.987"/><feComposite in2="SourceAlpha" operator="in"/></filter>
<filter id="f39" filterUnits="userSpaceOnUse" x="120" y="60" width="460" height="500" color-interpolation-filters="sRGB"><feTurbulence type="fractalNoise" baseFrequency="0.3" numOctaves="2" seed="38"/><feColorMatrix type="matrix" values="0 0 0 0 0.000  0 0 0 0 0.000  0 0 0 0 0.000  40 0 0 0 -20.015"/><feComposite in2="SourceAlpha" operator="in"/></filter>
<filter id="f40" filterUnits="userSpaceOnUse" x="-200" y="-200" width="1100" height="1100" color-interpolation-filters="sRGB"><feTurbulence type="fractalNoise" baseFrequency="0.14 0.45" numOctaves="2" seed="35"/><feColorMatrix type="matrix" values="0 0 0 0 0.000  0 0 0 0 0.000  0 0 0 0 0.000  40 0 0 0 -24.339"/><feComposite in2="SourceAlpha" operator="in"/></filter>
<filter id="f41" filterUnits="userSpaceOnUse" x="120" y="60" width="460" height="500" color-interpolation-filters="sRGB"><feTurbulence type="fractalNoise" baseFrequency="0.3" numOctaves="2" seed="36"/><feColorMatrix type="matrix" values="0 0 0 0 0.000  0 0 0 0 0.000  0 0 0 0 0.000  40 0 0 0 -23.204"/><feComposite in2="SourceAlpha" operator="in"/></filter>
<filter id="f42" filterUnits="userSpaceOnUse" x="120" y="60" width="460" height="500" color-interpolation-filters="sRGB"><feTurbulence type="fractalNoise" baseFrequency="0.3" numOctaves="2" seed="37"/><feColorMatrix type="matrix" values="0 0 0 0 0.000  0 0 0 0 0.000  0 0 0 0 0.000  40 0 0 0 -28.842"/><feComposite in2="SourceAlpha" operator="in"/></filter>
<g id="base"><path d="M132.9 72.2 Q350 69.6 566.0 73.3 L555.2 545.8 Q347 540.0 139.0 544.2 Z" fill="#00ccff"/>
<g clip-path="url(#fc)">
<path d="M128.0 68.0 L572.0 68.0 L572.0 550.0 L128.0 550.0 Z" fill="#fff" filter="url(#f0)"/>
<path d="M520.0 290.0 L572.0 284.0 L572.0 370.0 L545.0 368.0 L530.0 350.0 L520.0 330.0 Z" fill="#fff" filter="url(#f1)"/>
<path d="M520.0 290.0 L572.0 284.0 L572.0 370.0 L545.0 368.0 L530.0 350.0 L520.0 330.0 Z" fill="#fff" filter="url(#f2)"/>
<path d="M128.0 68.0 L572.0 68.0 L572.0 284.0 L561.0 284.0 L540.0 286.0 L522.0 290.0 L507.0 300.0 L505.0 330.0 L501.0 360.0 L490.0 360.0 L478.0 352.0 L465.0 342.0 L452.0 326.0 L441.0 312.0 L430.0 302.0 L415.0 294.0 L405.0 290.0 L390.0 292.0 L370.0 300.0 L356.0 300.0 L345.0 310.0 L336.0 318.0 L320.0 320.0 L300.0 322.0 L260.0 320.0 L230.0 318.0 L200.0 318.0 L160.0 316.0 L140.0 318.0 L128.0 318.0 Z" fill="#99ff66"/>
<path d="M128.0 68.0 L572.0 68.0 L572.0 284.0 L561.0 284.0 L540.0 286.0 L522.0 290.0 L507.0 300.0 L505.0 330.0 L501.0 360.0 L490.0 360.0 L478.0 352.0 L465.0 342.0 L452.0 326.0 L441.0 312.0 L430.0 302.0 L415.0 294.0 L405.0 290.0 L390.0 292.0 L370.0 300.0 L356.0 300.0 L345.0 310.0 L336.0 318.0 L320.0 320.0 L300.0 322.0 L260.0 320.0 L230.0 318.0 L200.0 318.0 L160.0 316.0 L140.0 318.0 L128.0 318.0 Z" fill="#fff" filter="url(#f3)"/>
<path d="M128.0 68.0 L160.0 68.0 L160.0 92.0 L136.0 96.0 L128.0 96.0 Z" fill="#fff" filter="url(#f4)"/>
<path d="M188.0 120.0 L212.0 117.0 L237.0 121.0 L248.0 134.0 L242.0 150.0 L222.0 158.0 L204.0 171.0 L188.0 178.0 Z" fill="#fff" filter="url(#f5)"/>
<path d="M285.0 68.0 L572.0 68.0 L572.0 124.0 L460.0 124.0 L440.0 118.0 L413.0 121.0 L390.0 124.0 L368.0 123.0 L350.0 121.0 L286.0 121.0 Z" fill="#fff" filter="url(#f6)"/>
<path d="M388.0 68.0 L446.0 68.0 L446.0 118.0 L390.0 124.0 Z" fill="#99ff66"/>
<path d="M388.0 68.0 L446.0 68.0 L446.0 118.0 L390.0 124.0 Z" fill="#fff" filter="url(#f7)"/>
<path d="M285.0 68.0 L345.0 68.0 L345.0 122.0 L286.0 122.0 Z" fill="#fff" filter="url(#f8)"/>
<path d="M372.0 128.0 L413.0 121.0 L441.0 119.0 L461.0 132.0 L465.0 149.0 L477.0 144.0 L489.0 139.0 L507.0 136.0 L509.0 156.0 L517.0 164.0 L542.0 174.0 L545.0 202.0 L528.0 214.0 L519.0 205.0 L487.0 200.0 L480.0 192.0 L443.0 195.0 L411.0 187.0 L402.0 195.0 L369.0 196.0 L381.0 176.0 L384.0 160.0 Z" fill="#fff" filter="url(#f9)"/>
<path d="M372.0 128.0 L413.0 121.0 L441.0 119.0 L446.0 125.0 L446.0 196.0 L411.0 187.0 L402.0 195.0 L369.0 196.0 L381.0 176.0 L384.0 160.0 Z" fill="#fff" filter="url(#f10)"/>
<path d="M192.0 180.0 L222.0 166.0 L240.0 170.0 L254.0 164.0 L252.0 178.0 L248.0 192.0 L243.0 206.0 L246.0 220.0 L252.0 232.0 L232.0 226.0 L210.0 224.0 L192.0 222.0 Z" fill="#fff" filter="url(#f11)"/>
<path d="M545.0 120.0 L572.0 120.0 L572.0 284.0 L545.0 286.0 L545.0 226.0 L545.0 202.0 L541.0 194.0 L543.0 186.0 L542.0 174.0 Z" fill="#fff" filter="url(#f12)"/>
<path d="M521.0 246.0 L545.0 240.0 L570.0 246.0 L570.0 286.0 L545.0 286.0 L519.0 290.0 L515.0 266.0 Z" fill="#fff" filter="url(#f13)"/>
<path d="M369.0 196.0 L402.0 195.0 L398.0 205.0 L395.0 223.0 L399.0 241.0 L392.0 236.0 L380.0 222.0 L371.0 210.0 Z" fill="#fff" filter="url(#f14)"/>
<path d="M487.0 236.0 L498.0 228.0 L519.0 220.0 L528.0 214.0 L535.0 230.0 L529.0 236.0 L521.0 246.0 L517.0 258.0 L509.0 276.0 L497.0 286.0 L487.0 283.0 L486.0 262.0 L490.0 250.0 Z" fill="#fff" filter="url(#f15)"/>
<g clip-path="url(#cz0)"><rect x="0" y="0" width="700" height="700" transform="rotate(-22 350 300) translate(0 -50)" fill="#fff" filter="url(#f16)"/></g>
<path d="M128.0 296.0 L200.0 298.0 L260.0 300.0 L300.0 302.0 L338.0 300.0 L345.0 306.0 L336.0 318.0 L320.0 320.0 L300.0 322.0 L260.0 320.0 L230.0 318.0 L200.0 318.0 L160.0 316.0 L140.0 318.0 L128.0 318.0 Z" fill="#fff" filter="url(#f17)"/>
<path d="M522.0 290.0 L507.0 300.0 L505.0 330.0 L501.0 360.0 L490.0 360.0 L478.0 352.0 L465.0 342.0 L452.0 326.0 L441.0 312.0 L430.0 302.0 L415.0 294.0 L431.0 294.0 L457.0 297.0 L475.0 294.0 L487.0 283.0 L497.0 286.0 L509.0 280.0 Z" fill="#99ff66"/>
<path d="M522.0 290.0 L507.0 300.0 L505.0 330.0 L501.0 360.0 L490.0 360.0 L478.0 352.0 L465.0 342.0 L452.0 326.0 L441.0 312.0 L430.0 302.0 L415.0 294.0 L431.0 294.0 L457.0 297.0 L475.0 294.0 L487.0 283.0 L497.0 286.0 L509.0 280.0 Z" fill="#fff" filter="url(#f18)"/>
<path d="M238.0 70.0 L293.0 70.0 L292.0 95.0 L287.0 122.0 L262.0 123.0 L237.0 121.0 L222.0 119.0 L212.0 117.0 L216.0 108.0 L221.0 103.0 L228.0 90.0 L234.0 80.0 Z" fill="#00ccff"/>
<path d="M246.0 122.0 L290.0 121.0 L318.0 121.0 L326.0 123.0 L331.0 129.0 L330.0 132.0 L322.0 142.0 L294.0 150.0 L282.0 152.0 L270.0 147.0 L256.0 143.0 L248.0 134.0 Z" fill="#00ccff"/>
<path d="M224.0 158.0 L242.0 151.0 L256.0 143.0 L270.0 147.0 L276.0 152.0 L270.0 160.0 L256.0 162.0 L252.0 168.0 L246.0 174.0 L232.0 174.0 L226.0 168.0 Z" fill="#00ccff"/>
<path d="M276.0 152.0 L294.0 148.0 L322.0 142.0 L330.0 132.0 L345.0 138.0 L360.0 140.0 L368.0 128.0 L376.0 142.0 L386.0 152.0 L388.0 168.0 L382.0 180.0 L373.0 190.0 L369.0 196.0 L371.0 210.0 L380.0 222.0 L392.0 236.0 L399.0 241.0 L402.0 276.0 L406.0 284.0 L390.0 292.0 L370.0 300.0 L356.0 300.0 L345.0 300.0 L338.0 292.0 L336.0 275.0 L328.0 262.0 L312.0 252.0 L312.0 240.0 L303.0 222.6 L290.0 213.0 L281.0 200.0 L278.0 185.0 L278.0 170.0 L274.0 163.0 Z" fill="#00ccff"/>
<path d="M528.0 82.0 L536.0 72.0 L568.0 72.0 L568.0 117.0 L550.0 103.0 L535.0 95.0 L530.0 90.0 Z" fill="#00ccff"/>
<path d="M518.0 99.8 L530.5 110.4 L513.6 120.0 L505.0 112.5 Z" fill="#00ccff"/>
<path d="M345.0 72.0 L384.0 72.0 L388.0 88.0 L380.0 103.0 L366.0 116.0 L352.0 118.0 L345.0 114.0 Z" fill="#00ccff"/>
<path d="M128.0 95.0 L137.0 95.0 L139.5 130.0 L138.5 175.0 L128.0 175.0 Z" fill="#00ccff"/>
<path d="M238.0 70.0 L293.0 70.0 L292.0 95.0 L287.0 122.0 L262.0 123.0 L237.0 121.0 L222.0 119.0 L212.0 117.0 L216.0 108.0 L221.0 103.0 L228.0 90.0 L234.0 80.0 Z" fill="#fff" filter="url(#f19)"/>
<path d="M128.0 95.0 L137.0 95.0 L139.5 130.0 L138.5 175.0 L128.0 175.0 Z" fill="#fff" filter="url(#f20)"/>
<path d="M345.0 72.0 L384.0 72.0 L388.0 88.0 L380.0 103.0 L366.0 116.0 L352.0 118.0 L345.0 114.0 Z" fill="#fff" filter="url(#f21)"/>
<path d="M345.0 72.0 L384.0 72.0 L388.0 88.0 L380.0 103.0 L366.0 116.0 L352.0 118.0 L345.0 114.0 Z" fill="#fff" filter="url(#f22)"/>
<path d="M528.0 82.0 L536.0 72.0 L568.0 72.0 L568.0 117.0 L550.0 103.0 L535.0 95.0 L530.0 90.0 Z" fill="#fff" filter="url(#f23)"/>
<path d="M550.0 72.0 L568.0 72.0 L568.0 100.0 L558.0 98.0 L548.0 85.0 Z" fill="#fff" filter="url(#f24)"/>
<path d="M138.0 408.0 L146.0 410.0 L158.0 430.0 L172.0 446.0 L190.0 458.0 L210.0 468.0 L205.0 474.0 L185.0 466.0 L165.0 454.0 L150.0 440.0 L140.0 425.0 Z" fill="#fff" filter="url(#f25)"/>
<path d="M254.0 164.0 L262.0 161.0 L272.0 163.0 L278.0 170.0 L278.0 185.0 L281.0 200.0 L290.0 213.0 L303.0 222.6 L312.5 232.0 L312.0 238.0 L303.0 242.0 L284.0 245.0 L262.0 242.0 L252.0 232.0 L246.0 220.0 L243.0 206.0 L248.0 192.0 L252.0 178.0 Z" fill="#ff8000"/>
<path d="M402.0 195.0 L411.0 187.0 L427.0 193.0 L443.0 195.0 L459.0 193.0 L480.0 192.0 L487.0 200.0 L501.0 202.0 L519.0 205.0 L528.0 214.0 L519.0 220.0 L498.0 228.0 L487.0 236.0 L490.0 250.0 L486.0 262.0 L487.0 283.0 L475.0 294.0 L457.0 297.0 L431.0 294.0 L406.0 283.0 L402.0 276.0 L399.0 241.0 L395.0 223.0 L398.0 205.0 Z" fill="#ff8000"/>
<path d="M136.0 449.0 L150.0 455.0 L165.0 462.0 L180.0 468.0 L198.0 474.0 L212.0 476.0 L206.0 482.0 L199.0 486.0 L204.0 507.0 L202.0 529.0 L196.0 541.0 L170.0 546.0 L136.0 546.0 Z" fill="#ff8000"/>
<path d="M457.0 530.0 L462.0 518.0 L473.0 508.0 L485.0 515.0 L497.0 520.0 L505.0 528.0 L517.0 533.0 L529.0 536.0 L545.0 540.0 L558.0 546.0 L455.0 547.0 Z" fill="#ff8000"/>
<path d="M336.0 512.0 L346.0 514.0 L356.0 530.0 L358.0 546.0 L336.0 546.0 Z" fill="#ff8000"/>
<path d="M422.0 232.0 L433.0 230.0 L438.0 236.0 L437.0 246.0 L427.0 246.0 L421.0 240.0 Z" fill="#00ccff"/>
<path d="M452.0 232.0 L470.0 228.0 L488.0 236.0 L490.0 250.0 L478.0 260.0 L458.0 262.0 L446.0 250.0 Z" fill="#ff8000"/>
<path d="M452.0 232.0 L470.0 228.0 L488.0 236.0 L490.0 250.0 L478.0 260.0 L458.0 262.0 L446.0 250.0 Z" fill="#fff" filter="url(#f26)"/>
<path d="M254.0 164.0 L262.0 161.0 L272.0 163.0 L278.0 170.0 L278.0 185.0 L281.0 200.0 L290.0 213.0 L303.0 222.6 L312.5 232.0 L312.0 238.0 L303.0 242.0 L284.0 245.0 L262.0 242.0 L252.0 232.0 L246.0 220.0 L243.0 206.0 L248.0 192.0 L252.0 178.0 Z" fill="#fff" filter="url(#f27)"/>
<path d="M402.0 195.0 L411.0 187.0 L427.0 193.0 L443.0 195.0 L459.0 193.0 L480.0 192.0 L487.0 200.0 L501.0 202.0 L519.0 205.0 L528.0 214.0 L519.0 220.0 L498.0 228.0 L487.0 236.0 L490.0 250.0 L486.0 262.0 L487.0 283.0 L475.0 294.0 L457.0 297.0 L431.0 294.0 L406.0 283.0 L402.0 276.0 L399.0 241.0 L395.0 223.0 L398.0 205.0 Z" fill="#fff" filter="url(#f28)"/>
<path d="M136.0 449.0 L150.0 455.0 L165.0 462.0 L180.0 468.0 L198.0 474.0 L212.0 476.0 L206.0 482.0 L199.0 486.0 L204.0 507.0 L202.0 529.0 L196.0 541.0 L170.0 546.0 L136.0 546.0 Z" fill="#fff" filter="url(#f29)"/>
<path d="M457.0 530.0 L462.0 518.0 L473.0 508.0 L485.0 515.0 L497.0 520.0 L505.0 528.0 L517.0 533.0 L529.0 536.0 L545.0 540.0 L558.0 546.0 L455.0 547.0 Z" fill="#fff" filter="url(#f30)"/>
<path d="M336.0 512.0 L346.0 514.0 L356.0 530.0 L358.0 546.0 L336.0 546.0 Z" fill="#fff" filter="url(#f31)"/>
<path d="M406.0 284.0 L415.0 294.0 L430.0 302.0 L441.0 312.0 L452.0 326.0 L465.0 342.0 L478.0 352.0 L501.0 362.0 L505.0 380.0 L470.0 372.0 L440.0 350.0 L420.0 330.0 L405.0 310.0 L395.0 296.0 Z" fill="#fff" filter="url(#f32)"/>
</g></g>
<g id="lensA"><g clip-path="url(#cz1)"><rect x="0" y="0" width="700" height="700" transform="rotate(14 350 300) translate(0 -50)" fill="#fff" filter="url(#f33)"/></g>
<path d="M330.0 175.0 L352.0 168.0 L368.0 172.0 L368.7 190.0 L365.0 198.0 L339.0 191.0 L325.0 186.0 Z" fill="#fff" filter="url(#f34)"/>
<path d="M283.0 170.0 L285.0 175.0 L300.0 181.0 L316.0 186.5 L339.0 191.0 L352.0 194.0 L365.0 198.0" fill="none" stroke="#000" stroke-width="2.6" stroke-linejoin="round" stroke-linecap="round"/>
<path d="M366.0 194.0 L369.0 188.0 L374.0 172.0 L379.0 158.0" fill="none" stroke="#000" stroke-width="1.5" stroke-linejoin="round" stroke-linecap="round"/></g>
<g id="barotseA"><path d="M351.0 290.0 L377.0 290.0 L378.0 307.0 L351.0 307.0 Z" fill="#fff" filter="url(#f35)"/>
<path d="M358.0 242.0 L378.0 242.0 L378.0 265.0 L358.0 265.0 Z" fill="#fff" filter="url(#f36)"/>
<path d="M330.0 205.0 L372.0 205.0 L400.0 300.0 L405.0 330.0 L330.0 330.0 Z" fill="#fff" filter="url(#f37)"/>
<g clip-path="url(#cz2)"><rect x="0" y="0" width="700" height="700" transform="rotate(-35 350 300) translate(0 -50)" fill="#fff" filter="url(#f38)"/></g>
<path d="M387.0 304.0 L384.0 316.0 L382.0 330.0" fill="none" stroke="#000" stroke-width="6" stroke-linejoin="round" stroke-linecap="round"/>
<path d="M389.0 326.0 L394.0 345.0 L399.0 365.0 L402.0 380.0 L404.0 390.0" fill="none" stroke="#000" stroke-width="4.5" stroke-linejoin="round" stroke-linecap="round"/>
<path d="M339.0 284.0 L352.0 298.0 L366.0 312.0 L380.0 328.0" fill="none" stroke="#000" stroke-width="1.8" stroke-linejoin="round" stroke-linecap="round"/>
<path d="M354.0 264.0 L370.0 273.0 L383.0 280.0 L393.0 287.0" fill="none" stroke="#000" stroke-width="1.6" stroke-linejoin="round" stroke-linecap="round"/>
<path d="M329.0 232.0 L345.0 229.0 L358.0 230.0 L370.0 228.0" fill="none" stroke="#000" stroke-width="1.4" stroke-linejoin="round" stroke-linecap="round"/>
<path d="M313.0 355.0 L322.0 368.0 L332.0 382.0 L340.0 394.0" fill="none" stroke="#000" stroke-width="2.6" stroke-linejoin="round" stroke-linecap="round"/>
<path d="M361.0 389.0 L380.0 393.0 L401.0 396.0" fill="none" stroke="#000" stroke-width="1.6" stroke-linejoin="round" stroke-linecap="round"/>
<path d="M392.0 312.0 L405.0 306.0 L418.0 302.0 L428.0 300.0" fill="none" stroke="#000" stroke-width="1.3" stroke-linejoin="round" stroke-linecap="round"/>
<path d="M290.0 330.0 L310.0 350.0 L330.0 375.0 L345.0 400.0 L362.0 420.0 L379.0 438.0" fill="none" stroke="#000" stroke-width="1.3" stroke-linejoin="round" stroke-linecap="round"/>
<path d="M458.0 453.0 L475.0 452.0 L493.0 466.0 L490.0 474.0 L470.0 470.0 L460.0 462.0 Z" fill="#fff" filter="url(#f39)"/>
<path d="M466.0 457.0 L474.0 455.0 L484.0 462.0 L486.0 469.0 L478.0 469.0 L470.0 465.0 Z" fill="#000"/>
<path d="M463.5 484.0 L478.0 478.0 L493.0 472.0" fill="none" stroke="#000" stroke-width="1" stroke-linejoin="round" stroke-linecap="round"/>
<path d="M223.0 436.0 L234.0 445.0 L246.0 455.0" fill="none" stroke="#000" stroke-width="1.1" stroke-linejoin="round" stroke-linecap="round"/>
<path d="M194.0 472.0 L215.0 472.5 L238.0 474.5" fill="none" stroke="#000" stroke-width="1.1" stroke-linejoin="round" stroke-linecap="round"/>
<path d="M266.0 472.0 L280.0 477.0 L293.0 480.0" fill="none" stroke="#000" stroke-width="1.1" stroke-linejoin="round" stroke-linecap="round"/></g>
<g id="lensB"><g clip-path="url(#cz3)"><rect x="0" y="0" width="700" height="700" transform="rotate(14 350 300) translate(0 -50)" fill="#fff" filter="url(#f40)"/></g>
<path d="M284.0 172.0 L288.0 180.0 L296.0 185.0 L316.0 187.7 L338.8 191.0 L350.0 194.0 L357.0 198.0" fill="none" stroke="#000" stroke-width="2.4" stroke-linejoin="round" stroke-linecap="round"/>
<path d="M281.0 164.0 L287.0 163.0 L288.0 171.0 L282.0 172.0 Z" fill="#000"/></g>
<g id="centerB"><path d="M342.0 231.0 L352.0 231.5 L361.0 233.0" fill="none" stroke="#000" stroke-width="1.5" stroke-linejoin="round" stroke-linecap="round"/>
<path d="M359.0 242.0 L376.0 242.0 L376.0 266.0 L359.0 266.0 Z" fill="#fff" filter="url(#f41)"/>
<path d="M339.0 285.0 L348.0 296.0 L358.0 309.0 L367.0 322.0" fill="none" stroke="#000" stroke-width="1.6" stroke-linejoin="round" stroke-linecap="round"/>
<path d="M345.0 283.0 L352.0 292.0 L358.0 300.0" fill="none" stroke="#000" stroke-width="1.1" stroke-linejoin="round" stroke-linecap="round"/>
<path d="M389.0 333.0 L393.0 333.0 L396.0 344.0 L392.0 345.0 Z" fill="#000"/>
<path d="M320.0 366.0 L328.0 376.0 L335.0 385.0 L341.6 392.0" fill="none" stroke="#000" stroke-width="2.2" stroke-linejoin="round" stroke-linecap="round"/>
<path d="M344.0 403.0 L352.0 411.0 L361.0 420.0" fill="none" stroke="#000" stroke-width="1.6" stroke-linejoin="round" stroke-linecap="round"/>
<path d="M330.0 205.0 L372.0 205.0 L400.0 300.0 L405.0 330.0 L330.0 330.0 Z" fill="#fff" filter="url(#f42)"/></g>
<g id="centerC"><path d="M342.0 231.0 L352.0 231.5 L361.0 233.0" fill="none" stroke="#000" stroke-width="1.5" stroke-linejoin="round" stroke-linecap="round"/>
<path d="M359.0 242.0 L376.0 242.0 L376.0 266.0 L359.0 266.0 Z" fill="#fff" filter="url(#f41)"/>
<path d="M339.0 285.0 L348.0 296.0 L358.0 309.0 L367.0 322.0" fill="none" stroke="#000" stroke-width="1.6" stroke-linejoin="round" stroke-linecap="round"/>
<path d="M345.0 283.0 L352.0 292.0 L358.0 300.0" fill="none" stroke="#000" stroke-width="1.1" stroke-linejoin="round" stroke-linecap="round"/>
<path d="M311.0 354.0 L322.0 367.0 L335.0 384.0 L348.0 402.0 L361.0 420.0" fill="none" stroke="#000" stroke-width="2" stroke-linejoin="round" stroke-linecap="round"/>
<path d="M330.0 205.0 L372.0 205.0 L400.0 300.0 L405.0 330.0 L330.0 330.0 Z" fill="#fff" filter="url(#f42)"/></g>
<g id="top"><g clip-path="url(#fc)">
<circle cx="453" cy="477" r="2.7" fill="#000"/>
<path d="M518.9 99.8 L524.0 102.0 L528.4 108.0 L527.3 112.5" fill="none" stroke="#000" stroke-width="1.6" stroke-linejoin="round" stroke-linecap="round"/>
<path d="M525.0 110.0 L530.5 110.5 L530.0 113.5 L525.5 113.5 Z" fill="#000"/>
<path d="M539.0 359.0 L537.5 366.0 L533.0 371.0 L528.0 374.0" fill="none" stroke="#000" stroke-width="1.6" stroke-linejoin="round" stroke-linecap="round"/>
<path d="M546.0 372.0 L552.0 369.0 L557.0 368.0" fill="none" stroke="#000" stroke-width="1.3" stroke-linejoin="round" stroke-linecap="round"/>
<path d="M338.0 496.0 L347.0 510.0 L357.0 524.0 L362.0 533.0 L365.0 544.0" fill="none" stroke="#000" stroke-width="8" stroke-linejoin="round" stroke-linecap="round"/>
<path d="M138.25 68 L144.75 550 M188.83 68 L193.17 550 M240.42 68 L242.58 550 M291.00 68 L291.00 550 M341.58 68 L339.42 550 M392.67 68 L388.33 550 M443.25 68 L436.75 550 M494.34 68 L485.66 550 M544.42 68 L533.58 550 M128.0 124.5 L144.0 124.2 L160.0 124.0 L176.0 123.9 L192.0 123.7 L208.0 123.6 L224.0 123.5 L240.0 123.4 L256.0 123.3 L272.0 123.3 L288.0 123.3 L304.0 123.3 L320.0 123.3 L336.0 123.3 L352.0 123.4 L368.0 123.5 L384.0 123.6 L400.0 123.8 L416.0 124.0 L432.0 124.2 L448.0 124.4 L464.0 124.6 L480.0 124.9 L496.0 125.2 L512.0 125.5 L528.0 125.8 L544.0 126.2 L560.0 126.6 M128.0 175.8 L144.0 175.5 L160.0 175.3 L176.0 175.2 L192.0 175.0 L208.0 174.9 L224.0 174.8 L240.0 174.7 L256.0 174.6 L272.0 174.6 L288.0 174.6 L304.0 174.6 L320.0 174.6 L336.0 174.6 L352.0 174.7 L368.0 174.8 L384.0 174.9 L400.0 175.1 L416.0 175.3 L432.0 175.5 L448.0 175.7 L464.0 175.9 L480.0 176.2 L496.0 176.5 L512.0 176.8 L528.0 177.1 L544.0 177.5 L560.0 177.9 M128.0 226.5 L144.0 226.2 L160.0 226.0 L176.0 225.9 L192.0 225.7 L208.0 225.6 L224.0 225.5 L240.0 225.4 L256.0 225.3 L272.0 225.3 L288.0 225.3 L304.0 225.3 L320.0 225.3 L336.0 225.3 L352.0 225.4 L368.0 225.5 L384.0 225.6 L400.0 225.8 L416.0 226.0 L432.0 226.2 L448.0 226.4 L464.0 226.6 L480.0 226.9 L496.0 227.2 L512.0 227.5 L528.0 227.8 L544.0 228.2 L560.0 228.6 M128.0 277.2 L144.0 276.9 L160.0 276.7 L176.0 276.6 L192.0 276.4 L208.0 276.3 L224.0 276.2 L240.0 276.1 L256.0 276.0 L272.0 276.0 L288.0 276.0 L304.0 276.0 L320.0 276.0 L336.0 276.0 L352.0 276.1 L368.0 276.2 L384.0 276.3 L400.0 276.5 L416.0 276.7 L432.0 276.9 L448.0 277.1 L464.0 277.3 L480.0 277.6 L496.0 277.9 L512.0 278.2 L528.0 278.5 L544.0 278.9 L560.0 279.3 M128.0 328.2 L144.0 327.9 L160.0 327.7 L176.0 327.6 L192.0 327.4 L208.0 327.3 L224.0 327.2 L240.0 327.1 L256.0 327.0 L272.0 327.0 L288.0 327.0 L304.0 327.0 L320.0 327.0 L336.0 327.0 L352.0 327.1 L368.0 327.2 L384.0 327.3 L400.0 327.5 L416.0 327.7 L432.0 327.9 L448.0 328.1 L464.0 328.3 L480.0 328.6 L496.0 328.9 L512.0 329.2 L528.0 329.5 L544.0 329.9 L560.0 330.3 M128.0 379.0 L144.0 378.7 L160.0 378.5 L176.0 378.4 L192.0 378.2 L208.0 378.1 L224.0 378.0 L240.0 377.9 L256.0 377.8 L272.0 377.8 L288.0 377.8 L304.0 377.8 L320.0 377.8 L336.0 377.8 L352.0 377.9 L368.0 378.0 L384.0 378.1 L400.0 378.3 L416.0 378.5 L432.0 378.7 L448.0 378.9 L464.0 379.1 L480.0 379.4 L496.0 379.7 L512.0 380.0 L528.0 380.3 L544.0 380.7 L560.0 381.1 M128.0 429.7 L144.0 429.4 L160.0 429.2 L176.0 429.1 L192.0 428.9 L208.0 428.8 L224.0 428.7 L240.0 428.6 L256.0 428.5 L272.0 428.5 L288.0 428.5 L304.0 428.5 L320.0 428.5 L336.0 428.5 L352.0 428.6 L368.0 428.7 L384.0 428.8 L400.0 429.0 L416.0 429.2 L432.0 429.4 L448.0 429.6 L464.0 429.8 L480.0 430.1 L496.0 430.4 L512.0 430.7 L528.0 431.0 L544.0 431.4 L560.0 431.8 M128.0 481.0 L144.0 480.7 L160.0 480.5 L176.0 480.4 L192.0 480.2 L208.0 480.1 L224.0 480.0 L240.0 479.9 L256.0 479.8 L272.0 479.8 L288.0 479.8 L304.0 479.8 L320.0 479.8 L336.0 479.8 L352.0 479.9 L368.0 480.0 L384.0 480.1 L400.0 480.3 L416.0 480.5 L432.0 480.7 L448.0 480.9 L464.0 481.1 L480.0 481.4 L496.0 481.7 L512.0 482.0 L528.0 482.3 L544.0 482.7 L560.0 483.1 M128.0 532.1 L144.0 531.8 L160.0 531.6 L176.0 531.5 L192.0 531.3 L208.0 531.2 L224.0 531.1 L240.0 531.0 L256.0 530.9 L272.0 530.9 L288.0 530.9 L304.0 530.9 L320.0 530.9 L336.0 530.9 L352.0 531.0 L368.0 531.1 L384.0 531.2 L400.0 531.4 L416.0 531.6 L432.0 531.8 L448.0 532.0 L464.0 532.2 L480.0 532.5 L496.0 532.8 L512.0 533.1 L528.0 533.4 L544.0 533.8 L560.0 534.2" fill="none" stroke="#000" stroke-opacity="0.8" stroke-width="1" stroke-dasharray="1.2 2.6"/>
</g>
<path d="M160.4 209.7 L162.8 197.0 L170.7 187.4 L180.3 181.0 L191.4 177.0 L202.6 172.2 L213.8 168.3 L218.5 160.3 L226.5 158.7 L239.3 154.0 L248.8 146.0 L258.4 142.0 L271.2 146.0 L281.5 148.7 L293.0 145.2 L308.0 142.4 L320.5 138.4 L329.7 129.2 L338.8 132.6 L346.9 133.3 L353.8 137.9 L360.7 133.3 L368.7 125.8 L374.4 127.5 L381.3 128.7 L389.3 128.7 L399.7 127.5 L406.6 124.1 L413.4 121.2 L422.6 123.0 L431.8 125.2 L437.5 123.0 L442.1 118.9 L447.9 120.7 L452.4 125.2 L459.3 129.8 L461.6 136.7 L459.3 143.6 L463.9 148.2 L471.9 146.2 L481.4 139.9 L492.6 138.3 L503.8 135.9 L510.1 136.7 L507.0 144.6 L508.5 154.2 L514.9 162.2 L522.9 165.4 L534.0 167.0 L542.0 173.3 L542.0 186.1 L540.4 192.5 L545.2 200.4 L543.6 211.6 L545.2 225.9 L538.8 232.3 L532.5 235.5 L529.3 243.5 L526.1 253.0 L519.7 257.8 L514.9 267.4 L508.5 277.0 L507.0 288.1 L503.8 297.7 L500.6 302.5 L510.1 302.5 L517.4 303.5 L515.7 312.2 L512.2 322.6 L510.4 334.8 L505.2 343.5 L501.7 355.7 L503.5 366.1 L508.7 369.6 L505.2 380.0 L508.7 387.0 L517.4 392.2 L522.6 395.7 L520.9 407.8 L527.8 413.0 L538.3 418.3 L545.2 423.5 L555.7 428.7 L552.2 439.1 L547.0 449.6 L538.3 456.5 L524.3 460.0 L510.4 462.6 L500.0 467.0 L494.8 475.7 L493.0 482.6 L484.3 482.6 L472.2 487.8 L460.0 493.0 L451.3 498.3 L442.6 503.5 L437.4 508.7 L428.7 503.5 L420.0 507.0 L416.2 508.8 L411.8 515.9 L406.5 524.7 L397.7 522.0 L390.6 524.7 L381.8 527.4 L369.4 528.3 L364.0 532.0 L357.0 526.0 L345.0 510.0 L337.7 495.5 L331.1 488.9 L325.8 480.9 L316.5 479.6 L305.9 474.3 L298.0 467.7 L290.0 459.7 L279.4 454.5 L268.8 450.5 L255.6 443.9 L246.3 437.2 L239.7 438.6 L237.1 433.3 L230.5 426.6 L223.8 420.0 L225.2 409.4 L222.5 400.2 L217.2 390.9 L222.5 380.3 L223.8 363.1 L215.9 357.8 L219.5 343.0 L220.1 326.0 L217.0 315.0 L209.0 302.2 L205.0 289.4 L202.6 270.3 L199.4 254.3 L194.6 238.4 L189.9 228.8 L181.9 228.0 L174.0 224.0 L166.0 217.7 Z" fill="none" stroke="#000" stroke-width="5.0" stroke-linejoin="round" filter="url(#rough)"/>
<path d="M132.9 72.2 Q350 69.6 566.0 73.3 L555.2 545.8 Q347 540.0 139.0 544.2 Z" fill="none" stroke="#1a1a1a" stroke-width="1.8"/></g>
</defs>
<g transform="translate(0 0)"><use href="#base"/><g clip-path="url(#fc)"><use href="#lensA"/><use href="#barotseA"/></g><use href="#top"/></g>
<g transform="translate(541 0)"><use href="#base"/><g clip-path="url(#fc)"><use href="#lensB"/><use href="#centerB"/></g><use href="#top"/></g>
<g transform="translate(0 602)"><use href="#base"/><g clip-path="url(#fc)"><use href="#lensA"/><use href="#centerC"/></g><use href="#top"/></g>
<g transform="translate(541 602)"><use href="#base"/><g clip-path="url(#fc)"><use href="#lensB"/><use href="#centerB"/></g><use href="#top"/></g>
<g transform="translate(0 0)">
<text transform="translate(71.07 87.90) scale(1.0217 1)" font-size="20.91" fill="#262626">10</text>
<circle cx="99.75" cy="69.85" r="2.30" fill="none" stroke="#262626" stroke-width="0.9"/>
<text transform="translate(110.13 87.90) scale(0.9138 1)" font-size="20.91" fill="#262626">S</text>
<text transform="translate(71.89 187.90) scale(1.0139 1)" font-size="20.91" fill="#262626">12</text>
<circle cx="100.60" cy="169.80" r="2.15" fill="none" stroke="#262626" stroke-width="0.9"/>
<text transform="translate(111.05 187.90) scale(0.8972 1)" font-size="20.91" fill="#262626">S</text>
<text transform="translate(73.78 289.00) scale(1.0016 1)" font-size="21.22" fill="#262626">14</text>
<circle cx="102.50" cy="270.80" r="2.05" fill="none" stroke="#262626" stroke-width="0.9"/>
<text transform="translate(113.17 289.00) scale(0.8723 1)" font-size="20.91" fill="#262626">S</text>
<text transform="translate(74.42 390.30) scale(1.0556 1)" font-size="20.91" fill="#262626">16</text>
<circle cx="103.40" cy="371.70" r="2.15" fill="none" stroke="#262626" stroke-width="0.9"/>
<text transform="translate(114.08 390.30) scale(0.8640 1)" font-size="20.91" fill="#262626">S</text>
<text transform="translate(76.69 490.30) scale(0.9914 1)" font-size="21.34" fill="#262626">18</text>
<circle cx="105.30" cy="471.90" r="2.15" fill="none" stroke="#262626" stroke-width="0.9"/>
<text transform="translate(116.10 490.30) scale(0.8303 1)" font-size="21.34" fill="#262626">S</text>
<text transform="translate(127.38 589.40) scale(1.0646 1)" font-size="21.20" fill="#262626">18</text>
<circle cx="156.25" cy="570.85" r="2.30" fill="none" stroke="#262626" stroke-width="0.9"/>
<text transform="translate(166.76 589.40) scale(0.8748 1)" font-size="21.51" fill="#262626">E</text>
<text transform="translate(222.82 588.40) scale(1.0011 1)" font-size="21.48" fill="#262626">20</text>
<circle cx="251.95" cy="569.75" r="2.20" fill="none" stroke="#262626" stroke-width="0.9"/>
<text transform="translate(262.16 588.40) scale(0.8632 1)" font-size="21.80" fill="#262626">E</text>
<text transform="translate(318.52 588.20) scale(0.9964 1)" font-size="21.63" fill="#262626">22</text>
<circle cx="347.30" cy="570.20" r="2.45" fill="none" stroke="#262626" stroke-width="0.9"/>
<text transform="translate(358.47 588.20) scale(0.8490 1)" font-size="21.95" fill="#262626">E</text>
<text transform="translate(414.01 589.40) scale(1.0119 1)" font-size="21.34" fill="#262626">24</text>
<circle cx="443.05" cy="570.75" r="2.30" fill="none" stroke="#262626" stroke-width="0.9"/>
<text transform="translate(453.79 589.40) scale(0.8519 1)" font-size="21.66" fill="#262626">E</text>
<text transform="translate(509.91 591.00) scale(1.0406 1)" font-size="20.77" fill="#262626">26</text>
<circle cx="538.90" cy="572.50" r="2.45" fill="none" stroke="#262626" stroke-width="0.9"/>
<text transform="translate(549.55 591.00) scale(0.8404 1)" font-size="21.08" fill="#262626">E</text>
</g>
<g transform="translate(541 0)">
<text transform="translate(71.07 87.90) scale(1.0217 1)" font-size="20.91" fill="#262626">10</text>
<circle cx="99.75" cy="69.85" r="2.30" fill="none" stroke="#262626" stroke-width="0.9"/>
<text transform="translate(110.13 87.90) scale(0.9138 1)" font-size="20.91" fill="#262626">S</text>
<text transform="translate(71.89 187.90) scale(1.0139 1)" font-size="20.91" fill="#262626">12</text>
<circle cx="100.60" cy="169.80" r="2.15" fill="none" stroke="#262626" stroke-width="0.9"/>
<text transform="translate(111.05 187.90) scale(0.8972 1)" font-size="20.91" fill="#262626">S</text>
<text transform="translate(73.78 289.00) scale(1.0016 1)" font-size="21.22" fill="#262626">14</text>
<circle cx="102.50" cy="270.80" r="2.05" fill="none" stroke="#262626" stroke-width="0.9"/>
<text transform="translate(113.17 289.00) scale(0.8723 1)" font-size="20.91" fill="#262626">S</text>
<text transform="translate(74.42 390.30) scale(1.0556 1)" font-size="20.91" fill="#262626">16</text>
<circle cx="103.40" cy="371.70" r="2.15" fill="none" stroke="#262626" stroke-width="0.9"/>
<text transform="translate(114.08 390.30) scale(0.8640 1)" font-size="20.91" fill="#262626">S</text>
<text transform="translate(76.69 490.30) scale(0.9914 1)" font-size="21.34" fill="#262626">18</text>
<circle cx="105.30" cy="471.90" r="2.15" fill="none" stroke="#262626" stroke-width="0.9"/>
<text transform="translate(116.10 490.30) scale(0.8303 1)" font-size="21.34" fill="#262626">S</text>
<text transform="translate(127.38 589.40) scale(1.0646 1)" font-size="21.20" fill="#262626">18</text>
<circle cx="156.25" cy="570.85" r="2.30" fill="none" stroke="#262626" stroke-width="0.9"/>
<text transform="translate(166.76 589.40) scale(0.8748 1)" font-size="21.51" fill="#262626">E</text>
<text transform="translate(222.82 588.40) scale(1.0011 1)" font-size="21.48" fill="#262626">20</text>
<circle cx="251.95" cy="569.75" r="2.20" fill="none" stroke="#262626" stroke-width="0.9"/>
<text transform="translate(262.16 588.40) scale(0.8632 1)" font-size="21.80" fill="#262626">E</text>
<text transform="translate(318.52 588.20) scale(0.9964 1)" font-size="21.63" fill="#262626">22</text>
<circle cx="347.30" cy="570.20" r="2.45" fill="none" stroke="#262626" stroke-width="0.9"/>
<text transform="translate(358.47 588.20) scale(0.8490 1)" font-size="21.95" fill="#262626">E</text>
<text transform="translate(414.01 589.40) scale(1.0119 1)" font-size="21.34" fill="#262626">24</text>
<circle cx="443.05" cy="570.75" r="2.30" fill="none" stroke="#262626" stroke-width="0.9"/>
<text transform="translate(453.79 589.40) scale(0.8519 1)" font-size="21.66" fill="#262626">E</text>
<text transform="translate(509.91 591.00) scale(1.0406 1)" font-size="20.77" fill="#262626">26</text>
<circle cx="538.90" cy="572.50" r="2.45" fill="none" stroke="#262626" stroke-width="0.9"/>
<text transform="translate(549.55 591.00) scale(0.8404 1)" font-size="21.08" fill="#262626">E</text>
</g>
<g transform="translate(0 603)">
<text transform="translate(71.07 87.90) scale(1.0217 1)" font-size="20.91" fill="#262626">10</text>
<circle cx="99.75" cy="69.85" r="2.30" fill="none" stroke="#262626" stroke-width="0.9"/>
<text transform="translate(110.13 87.90) scale(0.9138 1)" font-size="20.91" fill="#262626">S</text>
<text transform="translate(71.89 187.90) scale(1.0139 1)" font-size="20.91" fill="#262626">12</text>
<circle cx="100.60" cy="169.80" r="2.15" fill="none" stroke="#262626" stroke-width="0.9"/>
<text transform="translate(111.05 187.90) scale(0.8972 1)" font-size="20.91" fill="#262626">S</text>
<text transform="translate(73.78 289.00) scale(1.0016 1)" font-size="21.22" fill="#262626">14</text>
<circle cx="102.50" cy="270.80" r="2.05" fill="none" stroke="#262626" stroke-width="0.9"/>
<text transform="translate(113.17 289.00) scale(0.8723 1)" font-size="20.91" fill="#262626">S</text>
<text transform="translate(74.42 390.30) scale(1.0556 1)" font-size="20.91" fill="#262626">16</text>
<circle cx="103.40" cy="371.70" r="2.15" fill="none" stroke="#262626" stroke-width="0.9"/>
<text transform="translate(114.08 390.30) scale(0.8640 1)" font-size="20.91" fill="#262626">S</text>
<text transform="translate(76.69 490.30) scale(0.9914 1)" font-size="21.34" fill="#262626">18</text>
<circle cx="105.30" cy="471.90" r="2.15" fill="none" stroke="#262626" stroke-width="0.9"/>
<text transform="translate(116.10 490.30) scale(0.8303 1)" font-size="21.34" fill="#262626">S</text>
<text transform="translate(127.38 589.40) scale(1.0646 1)" font-size="21.20" fill="#262626">18</text>
<circle cx="156.25" cy="570.85" r="2.30" fill="none" stroke="#262626" stroke-width="0.9"/>
<text transform="translate(166.76 589.40) scale(0.8748 1)" font-size="21.51" fill="#262626">E</text>
<text transform="translate(222.82 588.40) scale(1.0011 1)" font-size="21.48" fill="#262626">20</text>
<circle cx="251.95" cy="569.75" r="2.20" fill="none" stroke="#262626" stroke-width="0.9"/>
<text transform="translate(262.16 588.40) scale(0.8632 1)" font-size="21.80" fill="#262626">E</text>
<text transform="translate(318.52 588.20) scale(0.9964 1)" font-size="21.63" fill="#262626">22</text>
<circle cx="347.30" cy="570.20" r="2.45" fill="none" stroke="#262626" stroke-width="0.9"/>
<text transform="translate(358.47 588.20) scale(0.8490 1)" font-size="21.95" fill="#262626">E</text>
<text transform="translate(414.01 589.40) scale(1.0119 1)" font-size="21.34" fill="#262626">24</text>
<circle cx="443.05" cy="570.75" r="2.30" fill="none" stroke="#262626" stroke-width="0.9"/>
<text transform="translate(453.79 589.40) scale(0.8519 1)" font-size="21.66" fill="#262626">E</text>
<text transform="translate(509.91 591.00) scale(1.0406 1)" font-size="20.77" fill="#262626">26</text>
<circle cx="538.90" cy="572.50" r="2.45" fill="none" stroke="#262626" stroke-width="0.9"/>
<text transform="translate(549.55 591.00) scale(0.8404 1)" font-size="21.08" fill="#262626">E</text>
</g>
<g transform="translate(541 603)">
<text transform="translate(71.07 87.90) scale(1.0217 1)" font-size="20.91" fill="#262626">10</text>
<circle cx="99.75" cy="69.85" r="2.30" fill="none" stroke="#262626" stroke-width="0.9"/>
<text transform="translate(110.13 87.90) scale(0.9138 1)" font-size="20.91" fill="#262626">S</text>
<text transform="translate(71.89 187.90) scale(1.0139 1)" font-size="20.91" fill="#262626">12</text>
<circle cx="100.60" cy="169.80" r="2.15" fill="none" stroke="#262626" stroke-width="0.9"/>
<text transform="translate(111.05 187.90) scale(0.8972 1)" font-size="20.91" fill="#262626">S</text>
<text transform="translate(73.78 289.00) scale(1.0016 1)" font-size="21.22" fill="#262626">14</text>
<circle cx="102.50" cy="270.80" r="2.05" fill="none" stroke="#262626" stroke-width="0.9"/>
<text transform="translate(113.17 289.00) scale(0.8723 1)" font-size="20.91" fill="#262626">S</text>
<text transform="translate(74.42 390.30) scale(1.0556 1)" font-size="20.91" fill="#262626">16</text>
<circle cx="103.40" cy="371.70" r="2.15" fill="none" stroke="#262626" stroke-width="0.9"/>
<text transform="translate(114.08 390.30) scale(0.8640 1)" font-size="20.91" fill="#262626">S</text>
<text transform="translate(76.69 490.30) scale(0.9914 1)" font-size="21.34" fill="#262626">18</text>
<circle cx="105.30" cy="471.90" r="2.15" fill="none" stroke="#262626" stroke-width="0.9"/>
<text transform="translate(116.10 490.30) scale(0.8303 1)" font-size="21.34" fill="#262626">S</text>
<text transform="translate(127.38 589.40) scale(1.0646 1)" font-size="21.20" fill="#262626">18</text>
<circle cx="156.25" cy="570.85" r="2.30" fill="none" stroke="#262626" stroke-width="0.9"/>
<text transform="translate(166.76 589.40) scale(0.8748 1)" font-size="21.51" fill="#262626">E</text>
<text transform="translate(222.82 588.40) scale(1.0011 1)" font-size="21.48" fill="#262626">20</text>
<circle cx="251.95" cy="569.75" r="2.20" fill="none" stroke="#262626" stroke-width="0.9"/>
<text transform="translate(262.16 588.40) scale(0.8632 1)" font-size="21.80" fill="#262626">E</text>
<text transform="translate(318.52 588.20) scale(0.9964 1)" font-size="21.63" fill="#262626">22</text>
<circle cx="347.30" cy="570.20" r="2.45" fill="none" stroke="#262626" stroke-width="0.9"/>
<text transform="translate(358.47 588.20) scale(0.8490 1)" font-size="21.95" fill="#262626">E</text>
<text transform="translate(414.01 589.40) scale(1.0119 1)" font-size="21.34" fill="#262626">24</text>
<circle cx="443.05" cy="570.75" r="2.30" fill="none" stroke="#262626" stroke-width="0.9"/>
<text transform="translate(453.79 589.40) scale(0.8519 1)" font-size="21.66" fill="#262626">E</text>
<text transform="translate(509.91 591.00) scale(1.0406 1)" font-size="20.77" fill="#262626">26</text>
<circle cx="538.90" cy="572.50" r="2.45" fill="none" stroke="#262626" stroke-width="0.9"/>
<text transform="translate(549.55 591.00) scale(0.8404 1)" font-size="21.08" fill="#262626">E</text>
</g>
<text transform="translate(253.30 35.20) scale(1.1795 1)" font-size="22.77" font-weight="bold" fill="#000">Land Cover for</text>
<text transform="translate(253.64 62.80) scale(1.2672 1)" font-size="21.94" font-weight="bold" fill="#000">March 14 2011</text>
<text transform="translate(794.71 35.20) scale(1.1770 1)" font-size="22.77" font-weight="bold" fill="#000">Land Cover for</text>
<text transform="translate(794.63 62.80) scale(1.2733 1)" font-size="21.94" font-weight="bold" fill="#000">March 14 2015</text>
<text transform="translate(253.30 636.90) scale(1.1653 1)" font-size="23.05" font-weight="bold" fill="#000">Land Cover for</text>
<text transform="translate(268.69 664.40) scale(1.2133 1)" font-size="22.30" font-weight="bold" fill="#000">July 28 2011</text>
<text transform="translate(794.71 636.90) scale(1.1629 1)" font-size="23.05" font-weight="bold" fill="#000">Land Cover for</text>
<text transform="translate(809.69 664.40) scale(1.2133 1)" font-size="22.30" font-weight="bold" fill="#000">July 28 2015</text>
<text transform="translate(22.12 54.50) scale(0.9192 1)" font-size="40.02" font-weight="bold" fill="#000">a)</text>
<text transform="translate(21.84 650.50) scale(0.9356 1)" font-size="39.88" font-weight="bold" fill="#000">b)</text>
<text transform="translate(47.60 360.18) rotate(-90) scale(1.0874 1)" font-size="26.64" fill="#262626">Latitude</text>
<text transform="translate(47.30 961.97) rotate(-90) scale(1.0863 1)" font-size="26.64" fill="#262626">Latitude</text>
<text transform="translate(254.65 1229.40) scale(1.1270 1)" font-size="25.39" fill="#262626">Longitude</text>
<text transform="translate(797.44 1234.20) scale(1.1135 1)" font-size="25.81" fill="#262626">Longitude</text>
<rect x="321.9" y="1272.8" width="55.2" height="23.3" fill="#0000c8" stroke="#222" stroke-width="1.5"/>
<rect x="321.9" y="1304.8" width="55.2" height="23.3" fill="#ff8000" stroke="#222" stroke-width="1.5"/>
<rect x="321.9" y="1336.8" width="55.2" height="23.3" fill="#99ff66" stroke="#222" stroke-width="1.5"/>
<rect x="603.8" y="1272.8" width="55.2" height="23.3" fill="#00ccff" stroke="#222" stroke-width="1.5"/>
<rect x="603.8" y="1304.8" width="55.2" height="23.3" fill="#000" stroke="#222" stroke-width="1.5"/>
<rect x="603.8" y="1336.8" width="55.2" height="23.3" fill="#a6a6a6" stroke="#222" stroke-width="1.5"/>
<g id="legtext"></g>
<text transform="translate(385.48 1290.40) scale(1.1245 1)" font-size="24.30" fill="#111">Water</text>
<text transform="translate(383.34 1321.90) scale(1.1329 1)" font-size="24.30" fill="#111">Miombo</text>
<text transform="translate(383.80 1353.70) scale(1.0940 1)" font-size="24.30" fill="#111">Tree Savanna</text>
<text transform="translate(665.68 1290.00) scale(1.0838 1)" font-size="24.30" fill="#111">Grass Savanna</text>
<text transform="translate(666.88 1321.00) scale(1.1318 1)" font-size="24.30" fill="#111">Wetland</text>
<text transform="translate(664.73 1353.00) scale(1.1392 1)" font-size="24.30" fill="#111">Barren/Built-Up</text>
</svg></body></html>
